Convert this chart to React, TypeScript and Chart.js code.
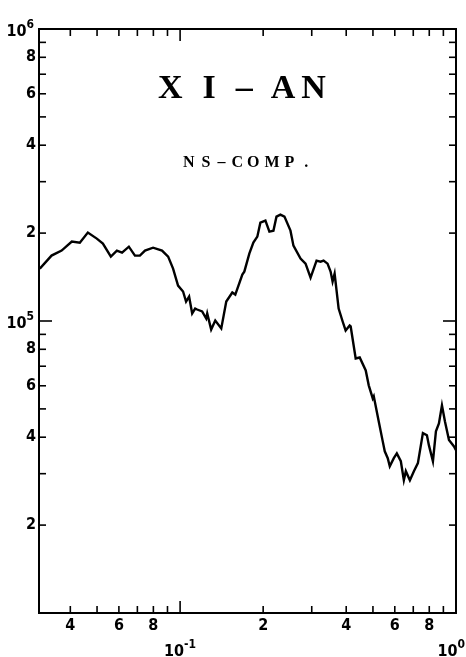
import React, { useEffect, useRef } from "react";
import { Chart, registerables } from "chart.js";

Chart.register(...registerables);

// Frequency (x) and amplitude (y)
const xValues = [
  0.0310, 0.0342, 0.0372, 0.0405, 0.0433, 0.0463, 0.0499, 0.0525, 0.0561, 0.0590,
  0.0616, 0.0652, 0.0686, 0.0715, 0.0746, 0.0798, 0.0860, 0.0905, 0.0943, 0.0983,
  0.1025, 0.1051, 0.1078, 0.1106, 0.1134, 0.1153, 0.1202, 0.1243, 0.1254, 0.1296,
  0.1341, 0.1410, 0.1470, 0.1546, 0.1585, 0.1681, 0.1709, 0.1782, 0.1843, 0.1905,
  0.1954, 0.2038, 0.2107, 0.2179, 0.2235, 0.2310, 0.2389, 0.2512, 0.2575, 0.2732,
  0.2849, 0.2971, 0.3123, 0.3229, 0.3311, 0.3423, 0.3511, 0.3570, 0.3631, 0.3755,
  0.3883, 0.3981, 0.4117, 0.4152, 0.4329, 0.4477, 0.4708, 0.4828, 0.4992, 0.5034,
  0.5248, 0.5426, 0.5518, 0.5657, 0.5754, 0.5951, 0.6103, 0.6310, 0.6471, 0.6580,
  0.6805, 0.7037, 0.7276, 0.7586, 0.7845, 0.7978, 0.8249, 0.8458, 0.8672, 0.8894,
  0.9120, 0.9430, 0.9834, 1.0,
];
const yValues = [
  151000, 167500, 174200, 187000, 185500, 200800, 191500, 184100, 166100, 174200,
  171500, 179700, 167500, 167500, 174200, 178300, 174200, 166100, 151100, 132200,
  126200, 116600, 121300, 106100, 110300, 109500, 107800, 102000, 106100, 93500,
  100400, 94300, 116600, 125200, 123200, 144200, 147600, 170100, 185500, 194500,
  217200, 220600, 202300, 203900, 227700, 231300, 227700, 203900, 181200, 163600,
  157200, 140800, 161000, 159700, 161000, 157200, 147600, 136500, 145300, 110300,
  99600, 92800, 96500, 95800, 74400, 75000, 67700, 60200, 54300, 55200,
  45300, 38700, 35800, 33900, 31800, 33900, 35200, 33100, 28500, 30600,
  28500, 30600, 32600, 41300, 40600, 37500, 33100, 41900, 44600, 51400,
  45300, 39100, 37200, 36100,
];

const xMin = 0.0308;
const xMax = 1;
const yMin = 1e4;
const yMax = 1e6;

const xTicks = [0.04, 0.05, 0.06, 0.07, 0.08, 0.09, 0.1, 0.2, 0.3, 0.4, 0.5, 0.6, 0.7, 0.8, 0.9, 1];
const xTickLabels = ["4", "", "6", "", "8", "", "10^-1", "2", "", "4", "", "6", "", "8", "", "10^0"];
const yTicks = [2e4, 3e4, 4e4, 5e4, 6e4, 7e4, 8e4, 9e4, 1e5, 2e5, 3e5, 4e5, 5e5, 6e5, 7e5, 8e5, 9e5, 1e6];
const yTickLabels = ["2", "", "4", "", "6", "", "8", "", "10^5", "2", "", "4", "", "6", "", "8", "", "10^6"];

const titleChars = ["X", "I", "–", "A", "N"];
const subtitleChars = ["N", "S", "–", "C", "O", "M", "P", "."];

const LABEL_FONT = '"Liberation Sans Narrow", "DejaVu Sans Condensed", "Arial Narrow", sans-serif';
const SERIF_FONT = '"Liberation Serif", "DejaVu Serif", serif';

const isDecade = (v: number) => Math.abs(Math.log10(v) - Math.round(Math.log10(v))) < 1e-6;

const framePlugin = {
  id: "frame",
  afterDraw(chart: any) {
    const { ctx, chartArea: a, scales } = chart;
    const xs = scales.x;
    const ys = scales.y;
    ctx.save();
    ctx.strokeStyle = "#000";
    ctx.lineWidth = 2;
    ctx.strokeRect(a.left, a.top, a.right - a.left, a.bottom - a.top);

    ctx.lineWidth = 1.6;
    const seg = (x1: number, y1: number, x2: number, y2: number) => {
      ctx.beginPath();
      ctx.moveTo(x1, y1);
      ctx.lineTo(x2, y2);
      ctx.stroke();
    };
    xs.ticks.forEach((t: any) => {
      const px = xs.getPixelForValue(t.value);
      const len = isDecade(t.value) ? 12 : 7;
      seg(px, a.bottom, px, a.bottom - len);
      seg(px, a.top, px, a.top + len);
    });
    ys.ticks.forEach((t: any) => {
      const py = ys.getPixelForValue(t.value);
      const len = isDecade(t.value) ? 13 : 7;
      seg(a.left, py, a.left + len, py);
      seg(a.right, py, a.right - len, py);
    });

    // decade labels with real superscripts
    const drawPow = (label: string, anchorX: number, baseY: number, align: "center" | "right") => {
      const exp = label.split("^")[1];
      ctx.fillStyle = "#000";
      ctx.textBaseline = "alphabetic";
      ctx.textAlign = "left";
      ctx.font = `bold 16px ${LABEL_FONT}`;
      const wb = ctx.measureText("10").width;
      ctx.font = `bold 12px ${LABEL_FONT}`;
      const we = ctx.measureText(exp).width;
      let start = align === "center" ? anchorX - (wb + we) / 2 : anchorX - (wb + we);
      start = Math.min(start, chart.width - (wb + we) - 1);
      ctx.font = `bold 16px ${LABEL_FONT}`;
      ctx.fillText("10", start, baseY);
      ctx.font = `bold 12px ${LABEL_FONT}`;
      ctx.fillText(exp, start + wb, baseY - 8);
    };
    xs.ticks.forEach((t: any, i: number) => {
      const lab = xTickLabels[i];
      if (lab && lab.includes("^")) {
        drawPow(lab, xs.getPixelForValue(t.value), a.bottom + 43, "center");
      }
    });
    ys.ticks.forEach((t: any, i: number) => {
      const lab = yTickLabels[i];
      if (lab && lab.includes("^")) {
        drawPow(lab, a.left - 5, ys.getPixelForValue(t.value) + 7, "right");
      }
    });

    // annotation text inside the plot, letter-spaced
    const drawSpaced = (chars: string[], gaps: number[], startX: number, baseY: number) => {
      let x = startX;
      chars.forEach((c, i) => {
        ctx.fillText(c, x, baseY);
        x += ctx.measureText(c).width + (gaps[i] ?? 0);
      });
    };
    ctx.fillStyle = "#000";
    ctx.textAlign = "left";
    ctx.textBaseline = "alphabetic";
    ctx.font = `bold 34px ${SERIF_FONT}`;
    drawSpaced(titleChars, [20, 20, 18, 6], a.left + 119, a.top + 69);
    ctx.font = `bold 16px ${SERIF_FONT}`;
    drawSpaced(subtitleChars, [7, 7, 6, 4, 5, 5, 10], a.left + 144, a.top + 138);
    ctx.restore();
  },
};

export default function App() {
  const ref = useRef<HTMLCanvasElement | null>(null);
  useEffect(() => {
    document.body.style.margin = "0";
    const canvas = ref.current!;
    const data = xValues.map((x, i) => ({ x, y: yValues[i] }));
    const chart = new Chart(canvas, {
      type: "line",
      data: {
        datasets: [
          {
            label: "NS-COMP.",
            data,
            borderColor: "#000",
            borderWidth: 2.4,
            pointRadius: 0,
            tension: 0,
            fill: false,
          },
        ],
      },
      options: {
        animation: false,
        responsive: false,
        devicePixelRatio: 1,
        layout: { padding: { top: 29, right: 10, left: 0, bottom: 0 } },
        plugins: { legend: { display: false }, tooltip: { enabled: false }, title: { display: false } },
        scales: {
          x: {
            type: "logarithmic",
            min: xMin,
            max: xMax,
            afterBuildTicks: (s: any) => {
              s.ticks = xTicks.map((v) => ({ value: v }));
            },
            afterFit: (s: any) => {
              s.height = 44;
              s.paddingLeft = 0;
              s.paddingRight = 0;
            },
            grid: { display: true, drawOnChartArea: false, drawTicks: false, color: "rgba(0,0,0,0)" },
            border: { display: false },
            ticks: {
              autoSkip: false,
              maxRotation: 0,
              padding: 3,
              color: "#000",
              font: { family: LABEL_FONT, size: 16, weight: "bold" },
              callback: (_v: any, i: number) => {
                const l = xTickLabels[i] || "";
                return l.includes("^") ? "" : l;
              },
            },
          },
          y: {
            type: "logarithmic",
            min: yMin,
            max: yMax,
            afterBuildTicks: (s: any) => {
              s.ticks = yTicks.map((v) => ({ value: v }));
            },
            afterFit: (s: any) => {
              s.width = 39;
              s.paddingTop = 0;
              s.paddingBottom = 0;
            },
            grid: { display: true, drawOnChartArea: false, drawTicks: false, color: "rgba(0,0,0,0)" },
            border: { display: false },
            ticks: {
              autoSkip: false,
              padding: 3,
              color: "#000",
              font: { family: LABEL_FONT, size: 16, weight: "bold" },
              callback: (_v: any, i: number) => {
                const l = yTickLabels[i] || "";
                return l.includes("^") ? "" : l;
              },
            },
          },
        },
      } as any,
      plugins: [framePlugin],
    });
    return () => chart.destroy();
  }, []);
  return (
    <div style={{ position: "absolute", left: 0, top: 0, width: 466, height: 657, background: "#fff" }}>
      <canvas ref={ref} width={466} height={657} />
    </div>
  );
}
